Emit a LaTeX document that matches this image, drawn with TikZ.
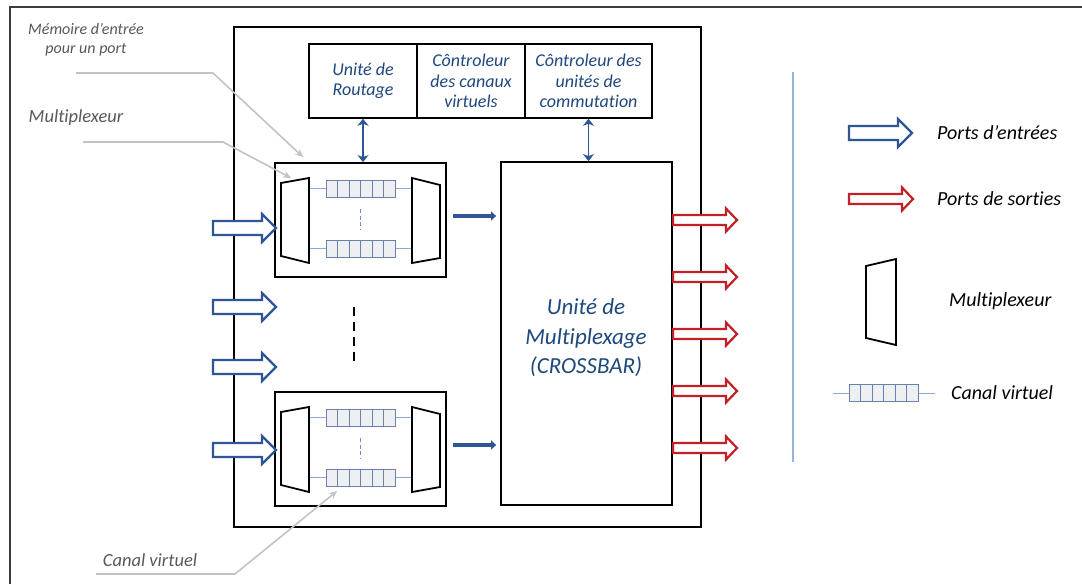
\documentclass[tikz,border=0pt]{standalone}
\usepackage{fontspec}
\setmainfont{Carlito}[Ligatures=NoCommon]
\usetikzlibrary{arrows.meta,calc}
\definecolor{dblue}{RGB}{31,73,125}
\definecolor{ablue}{RGB}{47,85,151}
\definecolor{ared}{RGB}{192,32,38}
\definecolor{cfill}{RGB}{238,239,243}
\definecolor{cline}{RGB}{105,130,172}
\definecolor{clink}{RGB}{140,170,210}
\definecolor{vline}{RGB}{150,180,222}
\definecolor{lgray}{RGB}{195,195,195}
\definecolor{tgray}{RGB}{89,89,89}
\definecolor{fgray}{RGB}{60,60,60}
\tikzset{
  box/.style={draw=black, line width=1.8pt, inner sep=0pt},
  ctrl/.style={draw=black, line width=1.5pt, minimum height=74pt, inner sep=0pt, text=dblue,
    font=\itshape\fontsize{18}{20.5}\selectfont, align=center},
  inarrow/.style={draw=ablue, line width=2.2pt, fill=white, line join=miter},
  outarrow/.style={draw=ared, line width=2.2pt, fill=white, line join=miter},
  mux/.style={draw=black, line width=1.8pt, fill=white, line join=miter},
  chan/.style={draw=cline, line width=0.9pt, fill=cfill},
  link/.style={draw=clink, line width=1pt},
  dbl/.style={draw=ablue, line width=1.8pt, {Stealth[length=7pt,width=11pt,inset=2pt]}-{Stealth[length=7pt,width=11pt,inset=2pt]}},
  feed/.style={draw=ablue, line width=3.5pt, -{Triangle[length=5pt,width=9pt]}},
  leader/.style={draw=lgray, line width=1.6pt, -{Stealth[length=8pt,width=7pt]}},
  note/.style={text=tgray, inner sep=0pt, align=center},
  legendtext/.style={font=\itshape\fontsize{20}{24}\selectfont, anchor=west, inner sep=0pt},
  pics/inport/.style={code={\draw[inarrow] (0,-7) -- (49,-7) -- (49,-14) -- (63,0) -- (49,14) -- (49,7) -- (0,7) -- cycle;}},
  pics/outport/.style={code={\draw[outarrow] (0,-5) -- (53,-5) -- (53,-11.5) -- (64,0) -- (53,11.5) -- (53,5) -- (0,5) -- cycle;}},
  pics/chan/.style={code={\draw[chan] (0,0) rectangle (69,17);
     \foreach \i in {1,...,5} \draw[draw=cline, line width=0.9pt] (\i*11.5,0) -- (\i*11.5,17);}},
  pics/muxL/.style={code={\draw[mux] (0,5) -- (28,0) -- (28,85) -- (0,78) -- cycle;}},
  pics/muxR/.style={code={\draw[mux] (0,0) -- (28,7) -- (28,80) -- (0,85) -- cycle;}},
}
\begin{document}
\begin{tikzpicture}[x=1pt,y=-1pt]
\fill[white] (0,0) rectangle (1082,584);
\useasboundingbox (0,0) rectangle (1082,584);
% outer frame
\draw[fgray, line width=1.3pt] (10,584) -- (10,7) -- (1082,7);
% main box
\node[box, minimum width=467pt, minimum height=500pt] (main) at (467.5,277) {};
% control units
\node[ctrl, minimum width=108pt] (routing) at (363,81) {Unité de\\Routage};
\node[ctrl, minimum width=108pt] (vcctrl) at (471,81) {Côntroleur\\des canaux\\virtuels};
\node[ctrl, minimum width=127pt] (swctrl) at (588.5,81) {Côntroleur des\\unités de\\commutation};
% crossbar
\node[box, minimum width=171pt, minimum height=343pt] (xbar) at (586.5,333.5) {};
\node[text=dblue, align=center, inner sep=0pt,
  font=\itshape\fontsize{23}{29.5}\selectfont] (xbartext) at (586,338) {Unité de\\Multiplexage\\(CROSSBAR)};
% input modules
\foreach \dy/\n in {0/1,229/2}{
  \node[box, minimum width=171pt, minimum height=114pt] (mod\n) at (360.5,220+\dy) {};
  \draw[link] (309,188.5+\dy) -- (412,188.5+\dy);
  \draw[link] (309,248.5+\dy) -- (412,248.5+\dy);
  \pic at (281,178+\dy) {muxL};
  \pic at (412,178+\dy) {muxR};
  \pic at (326,180+\dy) {chan};
  \pic at (326,240+\dy) {chan};
  \draw[draw=clink!80!blue, line width=1pt, dash pattern=on 4pt off 2.5pt] (360,209+\dy) -- (360,230+\dy);
  \draw[feed] ([xshift=6pt,yshift=4pt]mod\n.east) -- ([xshift=-4pt,yshift=4pt]mod\n.east -| xbar.west);
}
\coordinate (muxtip) at (291,178);
\coordinate (memtip) at (303,157);
\coordinate (chantip) at (337,491);
% double arrows
\draw[dbl] (routing.south) -- (routing.south |- mod1.north);
\draw[dbl] (swctrl.south) -- (swctrl.south |- xbar.north);
% input ports
\foreach \y in {228,307,367,450} \pic at (213,\y) {inport};
% ellipsis
\draw[black, line width=2.6pt, dash pattern=on 9pt off 6pt] (354,307) -- (354,364);
% output ports
\foreach \y in {220,277,334,391,448} \pic at (673,\y) {outport};
% annotations
\node[note, font=\itshape\fontsize{16}{19}\selectfont] (memlabel) at (86,40) {Mémoire d’entrée\\pour un port};
\node[note, font=\itshape\fontsize{18.5}{20}\selectfont] (muxlabel) at (76,118) {Multiplexeur};
\node[note, font=\itshape\fontsize{18.5}{20}\selectfont] (chanlabel) at (150,560) {Canal virtuel};
\coordinate (m1) at (76,73); \coordinate (m2) at (213,73);
\coordinate (x1) at (83,142); \coordinate (x2) at (223,142);
\coordinate (c1) at (96,574); \coordinate (c2) at (235,574);
\draw[leader] (m1) -- (m2) -- (memtip);
\draw[leader] (x1) -- (x2) -- (muxtip);
\draw[leader] (c1) -- (c2) -- (chantip);
% legend
\draw[vline, line width=1.3pt] (793,72) -- (793,462);
\pic at (849,133) {inport};
\node[legendtext] (lin) at (937,133) {Ports d’entrées};
\pic at (849,199) {outport};
\node[legendtext] (lout) at (937,199) {Ports de sorties};
\draw[mux] (866,266) -- (896,259) -- (896,345) -- (866,338) -- cycle;
\node[legendtext] (lmux) at (949,301) {Multiplexeur};
\draw[link] (833,393) -- (935,393);
\pic at (849,384) {chan};
\node[legendtext] (lchan) at (951,393) {Canal virtuel};
\end{tikzpicture}
\end{document}
